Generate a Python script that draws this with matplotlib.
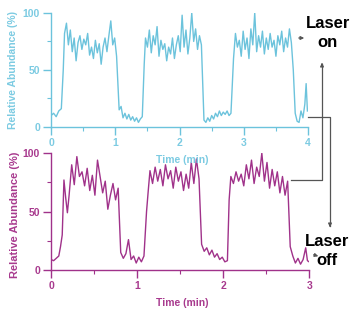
import matplotlib.pyplot as plt
from matplotlib.ticker import MultipleLocator

plt.rcParams["font.family"] = ["Liberation Sans", "DejaVu Sans"]
plt.rcParams["font.weight"] = "bold"

# top trace (time axis 0-4)
top_t = [0, 0.04, 0.08, 0.12, 0.16,
         0.19, 0.21, 0.24, 0.27, 0.30, 0.33, 0.36, 0.39, 0.42, 0.45, 0.48, 0.51, 0.54, 0.57,
         0.60, 0.63, 0.66, 0.69, 0.72, 0.75, 0.78, 0.81, 0.84, 0.87, 0.90, 0.93, 0.96, 0.99, 1.02,
         1.06, 1.09, 1.12, 1.15, 1.18, 1.21, 1.24, 1.27, 1.30, 1.33, 1.36, 1.39, 1.42,
         1.45, 1.47, 1.50, 1.53, 1.56, 1.59, 1.62, 1.65, 1.68, 1.71, 1.74, 1.77, 1.80, 1.83,
         1.86, 1.89, 1.92, 1.95, 1.98, 2.01, 2.04, 2.07, 2.10, 2.13, 2.16, 2.19, 2.22, 2.25,
         2.28, 2.31, 2.34,
         2.38, 2.41, 2.44, 2.47, 2.50, 2.53, 2.56, 2.59, 2.62, 2.65, 2.68, 2.71, 2.74, 2.77, 2.80,
         2.84, 2.87, 2.90, 2.93, 2.96, 2.99, 3.02, 3.05, 3.08, 3.11, 3.14, 3.17, 3.20, 3.23,
         3.26, 3.29, 3.32, 3.35, 3.38, 3.41, 3.44, 3.47, 3.50, 3.53, 3.56, 3.59, 3.62, 3.65,
         3.68, 3.71, 3.74, 3.77,
         3.80, 3.83, 3.86, 3.89, 3.92, 3.95, 3.97, 3.99]
top_v = [10, 12, 9, 14, 16,
         50, 82, 91, 72, 85, 66, 78, 58, 74, 80, 68, 77, 72, 82,
         63, 70, 60, 76, 65, 73, 55, 70, 78, 66, 80, 93, 72, 78, 62,
         15, 18, 8, 12, 7, 11, 6, 9, 5, 8, 4, 7, 9,
         55, 78, 70, 85, 65, 80, 72, 88, 62, 76, 68, 73, 58, 70,
         64, 78, 60, 72, 80, 66, 98, 70, 85, 64, 78, 100, 75, 86,
         68, 80, 72,
         6, 4, 8, 5, 10, 7, 12, 9, 14, 10, 13, 11, 14, 10, 12,
         60, 82, 70, 76, 62, 84, 68, 78, 60, 86, 72, 100, 66, 80,
         70, 84, 64, 78, 68, 82, 70, 76, 62, 80, 72, 84, 66, 78,
         70, 86, 74, 50,
         12, 5, 4, 14, 8, 20, 38, 14]

# bottom trace (time axis 0-3)
bot_t = [0, 0.03, 0.06, 0.09, 0.11, 0.13,
         0.15, 0.17, 0.19, 0.21, 0.24, 0.27, 0.30, 0.33, 0.36, 0.39, 0.42, 0.45, 0.48, 0.51,
         0.54, 0.57, 0.60, 0.63, 0.66, 0.69, 0.72, 0.75, 0.78,
         0.81, 0.84, 0.87, 0.90, 0.93, 0.96, 0.99, 1.02, 1.05, 1.08,
         1.11, 1.13, 1.15, 1.18, 1.21, 1.24, 1.27, 1.30, 1.33, 1.36, 1.39, 1.42, 1.45, 1.48,
         1.51, 1.54, 1.57, 1.60, 1.63, 1.66, 1.69, 1.72,
         1.75, 1.78, 1.81, 1.84, 1.87, 1.90, 1.93, 1.96, 1.99, 2.02, 2.05,
         2.07, 2.09, 2.12, 2.15, 2.18, 2.21, 2.24, 2.27, 2.30, 2.33, 2.36, 2.39, 2.42, 2.45,
         2.48, 2.51, 2.54, 2.57, 2.60, 2.63, 2.66, 2.69, 2.72, 2.75,
         2.78, 2.81, 2.84, 2.87, 2.90, 2.93, 2.96, 2.98, 3.0]
bot_v = [9, 8, 10, 12, 20, 30,
         77, 62, 49, 64, 90, 73, 97, 80, 84, 72, 87, 68, 81, 64,
         94, 80, 66, 76, 52, 64, 74, 60, 70,
         15, 10, 14, 26, 9, 12, 6, 11, 7, 12,
         50, 68, 85, 74, 88, 76, 86, 72, 90, 78, 85, 70, 88, 76,
         84, 68, 82, 70, 92, 74, 95, 78,
         22, 16, 19, 13, 17, 11, 14, 9, 11, 7, 8,
         60, 80, 74, 84, 76, 82, 72, 90, 78, 94, 74, 88, 80, 100,
         76, 92, 70, 86, 72, 84, 66, 80, 64, 76,
         20, 12, 6, 10, 5, 9, 19, 8, 7]

blue_line = "#6cc3dc"
blue_text = "#7ccbe2"
purple_line = "#a0328a"
purple_text = "#a83a8e"
callout = "#555555"

fig = plt.figure(figsize=(3.62, 3.23), dpi=100)
ax2 = fig.add_axes([0.141, 0.164, 0.713, 0.362])
ax1 = fig.add_axes([0.141, 0.607, 0.710, 0.353])
ax1.patch.set_visible(False)
ax2.patch.set_visible(False)


def style(ax, color, tcolor, xmax):
    for s in ["top", "right"]:
        ax.spines[s].set_visible(False)
    for s in ["left", "bottom"]:
        ax.spines[s].set_color(color)
        ax.spines[s].set_linewidth(1.0)
    ax.set_xlim(0, xmax)
    ax.set_ylim(0, 100)
    ax.set_xticks(range(xmax + 1))
    ax.set_yticks([0, 50, 100])
    ax.xaxis.set_minor_locator(MultipleLocator(0.5))
    ax.yaxis.set_minor_locator(MultipleLocator(25))
    ax.tick_params(which="major", length=6, width=1.0, color=color,
                   labelcolor=tcolor, labelsize=7.5, pad=2)
    ax.tick_params(which="minor", length=3, width=0.8, color=color)
    for lab in ax.get_xticklabels() + ax.get_yticklabels():
        lab.set_fontweight("bold")


ax1.plot(top_t, top_v, color=blue_line, linewidth=1.0)
style(ax1, blue_line, blue_text, 4)
ax1.set_xlabel("Time (min)", color=blue_text, fontsize=7.5, fontweight="bold")
ax1.xaxis.set_label_coords(0.51, -0.245)
ax1.set_ylabel("Relative Abundance (%)", color=blue_text, fontsize=7.5,
               fontweight="bold")
ax1.yaxis.set_label_coords(-0.128, 0.5)

ax2.plot(bot_t, bot_v, color=purple_line, linewidth=1.0)
style(ax2, purple_line, purple_text, 3)
ax2.set_xlabel("Time (min)", color=purple_text, fontsize=7.5, fontweight="bold")
ax2.xaxis.set_label_coords(0.51, -0.24)
ax2.set_ylabel("Relative Abundance (%)", color=purple_text, fontsize=8,
               fontweight="bold")
ax2.yaxis.set_label_coords(-0.122, 0.47)

H = 323
fig.text(328, H - 33, "Laser\non", transform=None, fontsize=12, fontweight="bold",
         ha="center", va="center", linespacing=1.3, color="black")
fig.text(327, H - 251, "Laser\noff", transform=None, fontsize=12, fontweight="bold",
         ha="center", va="center", linespacing=1.3, color="black")

line_kw = dict(color=callout, linewidth=0.9)
fig.add_artist(plt.Line2D([308, 330, 330], [H - 117, H - 117, H - 226],
                          transform=None, **line_kw))
fig.add_artist(plt.Line2D([291, 322, 322], [H - 180, H - 180, H - 64],
                          transform=None, **line_kw))
arrow_kw = dict(arrowstyle="-|>", color=callout, lw=0.9, mutation_scale=5)
plt.annotate("", xy=(330, H - 230), xytext=(330, H - 222), xycoords="figure pixels",
             textcoords="figure pixels", arrowprops=arrow_kw)
plt.annotate("", xy=(322, H - 60), xytext=(322, H - 68), xycoords="figure pixels",
             textcoords="figure pixels", arrowprops=arrow_kw)
plt.annotate("", xy=(307, H - 38), xytext=(296, H - 38), xycoords="figure pixels",
             textcoords="figure pixels", arrowprops=arrow_kw)
plt.annotate("", xy=(321, H - 257), xytext=(311, H - 254), xycoords="figure pixels",
             textcoords="figure pixels", arrowprops=arrow_kw)

fig.savefig("out.png", dpi=100)
